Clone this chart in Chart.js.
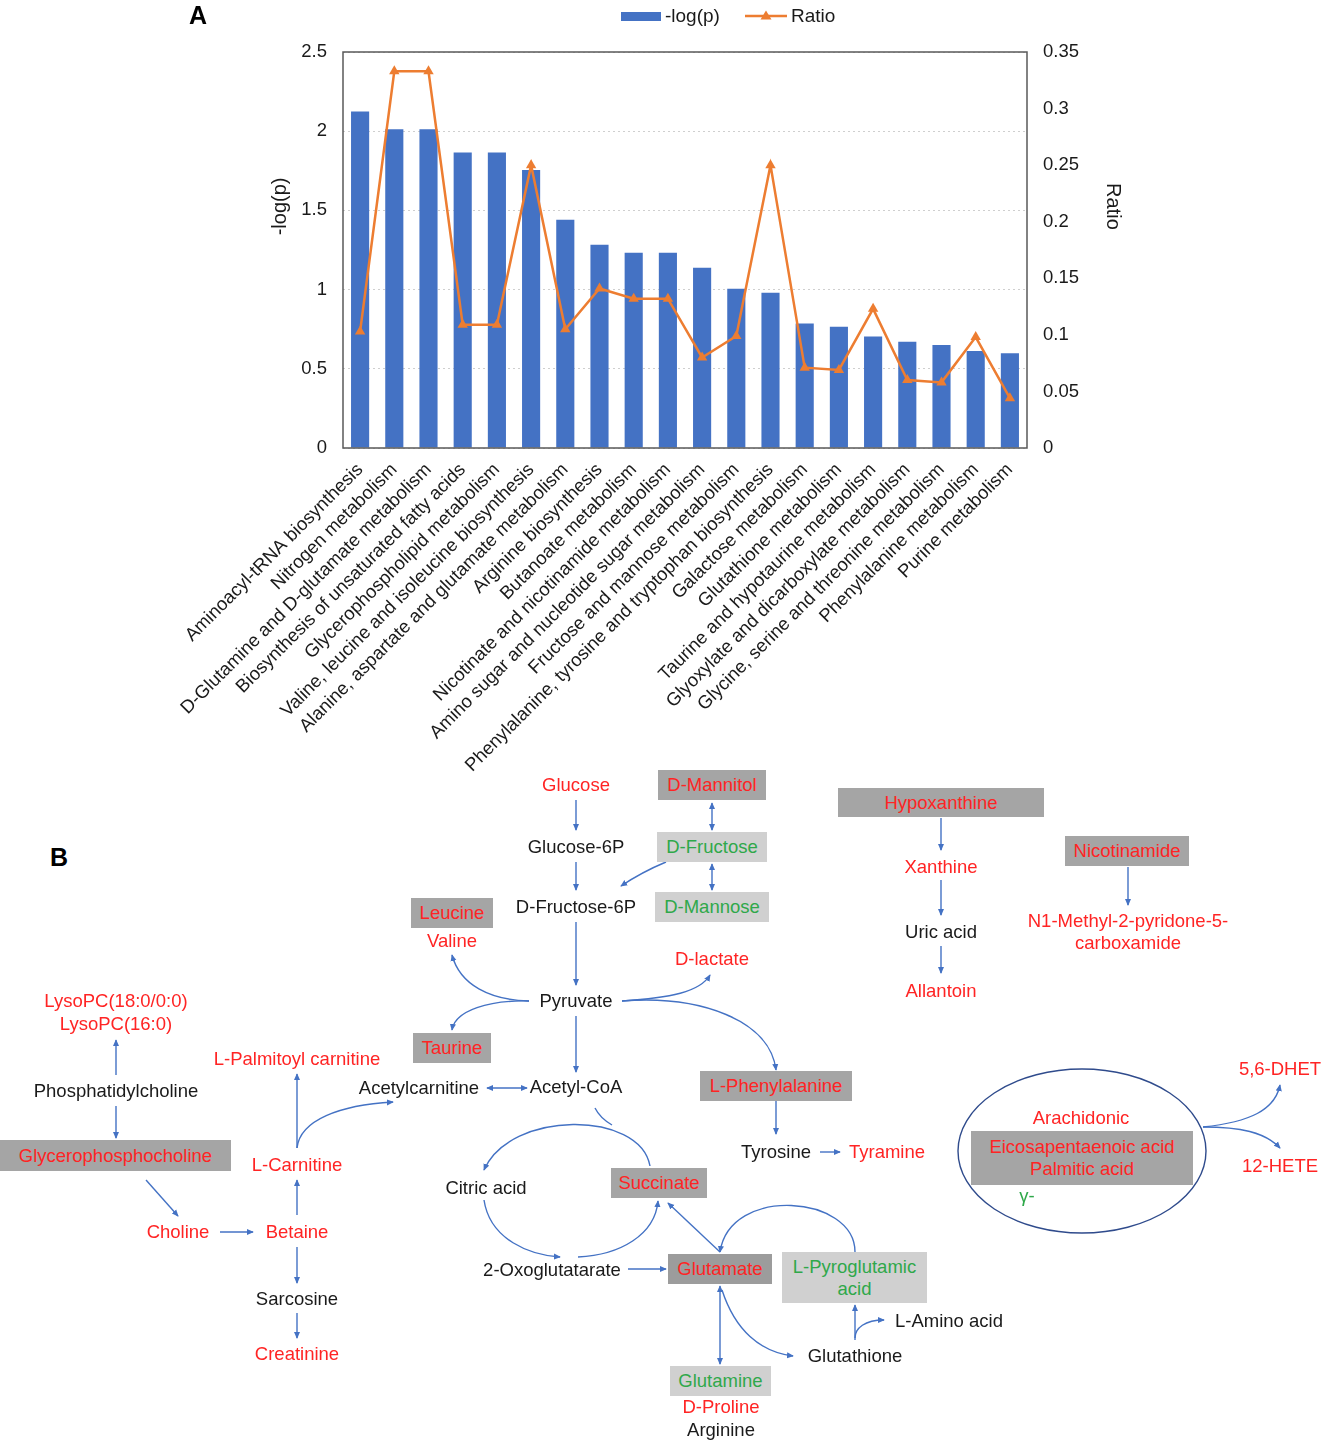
<!DOCTYPE html>
<html>
<head>
<meta charset="utf-8">
<script src="https://cdn.jsdelivr.net/npm/chart.js@4.4.1/dist/chart.umd.min.js"></script>
<style>
  html, body { margin: 0; padding: 0; background: #fff; }
  body { width: 1321px; height: 1440px; position: relative; overflow: hidden;
         font-family: "Liberation Sans", Arial, sans-serif; }
  #wrap { position: absolute; left: 0; top: 0; width: 1321px; height: 800px; }
  .t { position: absolute; transform: translate(-50%, -50%); white-space: nowrap;
       font-size: 18.5px; line-height: 22px; text-align: center; }
  .red { color: #ff2424; }
  .grn { color: #2fa84a; }
  .blk { color: #1a1a1a; }
  .box { position: absolute; display: flex; align-items: center; justify-content: center;
         flex-direction: column; font-size: 18.5px; line-height: 22px; white-space: nowrap; }
  .dk { background: #a5a5a5; }
  .dk2 { background: #9c9c9c; }
  .lt { background: #d0d0d0; }
  .panel { position: absolute; font-weight: bold; font-size: 25px; color: #000; }
  #legend { position: absolute; top: 5px; left: 621px; height: 22px; display: flex; align-items: center;
            font-size: 19px; color: #1a1a1a; }
  svg#arrows { position: absolute; left: 0; top: 0; }
</style>
</head>
<body>
<div id="wrap"><canvas id="c" width="1321" height="800"></canvas></div>
<div class="panel" style="left:189px;top:1px;">A</div>
<div id="legend">
  <span style="display:inline-block;width:40px;height:9px;background:#4472c4;"></span>
  <span style="margin-left:4px;">-log(p)</span>
  <svg width="44" height="14" style="margin-left:24px;"><line x1="1" y1="7" x2="43" y2="7" stroke="#ed7d31" stroke-width="2.5"/><polygon points="22,1.5 27.5,10.5 16.5,10.5" fill="#ed7d31"/></svg>
  <span style="margin-left:3px;">Ratio</span>
</div>
<div class="panel" style="left:50px;top:843px;">B</div>

<svg id="arrows" width="1321" height="1440">
  <defs>
    <marker id="ah" viewBox="0 0 8 8" refX="7" refY="4" markerWidth="7" markerHeight="7" markerUnits="userSpaceOnUse" orient="auto-start-reverse">
      <path d="M0,0.5 L8,4 L0,7.5 z" fill="#4472c4"/>
    </marker>
  </defs>
  <g fill="none" stroke="#4472c4" stroke-width="1.4">
    <path d="M576,800 L576,830" marker-end="url(#ah)"/>
    <path d="M576,862 L576,890" marker-end="url(#ah)"/>
    <path d="M576,922 L576,985" marker-end="url(#ah)"/>
    <path d="M576,1016 L576,1072" marker-end="url(#ah)"/>
    <path d="M712,803 L712,830" marker-start="url(#ah)" marker-end="url(#ah)"/>
    <path d="M712,864 L712,890" marker-start="url(#ah)" marker-end="url(#ah)"/>
    <path d="M666,862 Q642,872 621,886" marker-end="url(#ah)"/>
    <path d="M529,1001 C490,1000 460,985 452,955" marker-end="url(#ah)"/>
    <path d="M529,1001 C490,1000 455,1010 452,1030" marker-end="url(#ah)"/>
    <path d="M622,1001 C670,998 700,992 710,975" marker-end="url(#ah)"/>
    <path d="M622,1001 C700,995 770,1020 776,1070" marker-end="url(#ah)"/>
    <path d="M776,1101 L776,1134" marker-end="url(#ah)"/>
    <path d="M820,1152 L840,1152" marker-end="url(#ah)"/>
    <path d="M487,1088 L527,1088" marker-start="url(#ah)" marker-end="url(#ah)"/>
    <path d="M297,1148 L297,1074" marker-end="url(#ah)"/>
    <path d="M297,1148 C300,1120 340,1105 393,1102" marker-end="url(#ah)"/>
    <path d="M297,1215 L297,1180" marker-end="url(#ah)"/>
    <path d="M220,1232 L253,1232" marker-end="url(#ah)"/>
    <path d="M297,1247 L297,1283" marker-end="url(#ah)"/>
    <path d="M297,1313 L297,1338" marker-end="url(#ah)"/>
    <path d="M116,1075 L116,1040" marker-end="url(#ah)"/>
    <path d="M116,1106 L116,1138" marker-end="url(#ah)"/>
    <path d="M146,1180 L178,1216" marker-end="url(#ah)"/>
    <path d="M595,1108 Q600,1118 612,1125"/>
    <path d="M650,1166 C640,1110 510,1110 484,1170" marker-end="url(#ah)"/>
    <path d="M484,1200 C490,1240 530,1255 560,1257" marker-end="url(#ah)"/>
    <path d="M578,1257 C620,1255 655,1235 658,1201" marker-end="url(#ah)"/>
    <path d="M628,1269 L666,1269" marker-end="url(#ah)"/>
    <path d="M720,1252 L668,1203" marker-end="url(#ah)"/>
    <path d="M855,1252 C855,1195 730,1185 720,1252" marker-end="url(#ah)"/>
    <path d="M720,1286 L720,1364" marker-start="url(#ah)" marker-end="url(#ah)"/>
    <path d="M722,1290 C735,1330 760,1352 793,1356" marker-end="url(#ah)"/>
    <path d="M855,1340 L855,1305" marker-end="url(#ah)"/>
    <path d="M855,1338 C855,1328 865,1320 884,1320" marker-end="url(#ah)"/>
    <path d="M941,818 L941,850" marker-end="url(#ah)"/>
    <path d="M941,880 L941,915" marker-end="url(#ah)"/>
    <path d="M941,946 L941,973" marker-end="url(#ah)"/>
    <path d="M1128,867 L1128,905" marker-end="url(#ah)"/>
    <path d="M1203,1127 C1250,1122 1275,1110 1280,1085" marker-end="url(#ah)"/>
    <path d="M1203,1127 C1240,1127 1265,1132 1280,1148" marker-end="url(#ah)"/>
  </g>
  <ellipse cx="1082" cy="1151" rx="124" ry="82" fill="none" stroke="#2f4b8c" stroke-width="1.4"/>
</svg>

<!-- boxes -->
<div class="box dk red" style="left:658px;top:770px;width:108px;height:30px;">D-Mannitol</div>
<div class="box lt grn" style="left:657px;top:832px;width:110px;height:30px;">D-Fructose</div>
<div class="box lt grn" style="left:655px;top:892px;width:114px;height:30px;">D-Mannose</div>
<div class="box dk red" style="left:411px;top:898px;width:82px;height:30px;">Leucine</div>
<div class="box dk red" style="left:413px;top:1033px;width:78px;height:30px;">Taurine</div>
<div class="box dk red" style="left:700px;top:1071px;width:152px;height:30px;">L-Phenylalanine</div>
<div class="box dk red" style="left:0px;top:1140px;width:231px;height:31px;">Glycerophosphocholine</div>
<div class="box dk red" style="left:611px;top:1168px;width:96px;height:30px;">Succinate</div>
<div class="box dk2 red" style="left:668px;top:1254px;width:104px;height:30px;">Glutamate</div>
<div class="box lt grn" style="left:782px;top:1252px;width:145px;height:51px;"><span>L-Pyroglutamic</span><span>acid</span></div>
<div class="box lt grn" style="left:670px;top:1366px;width:101px;height:30px;">Glutamine</div>
<div class="box dk red" style="left:838px;top:788px;width:206px;height:29px;">Hypoxanthine</div>
<div class="box dk red" style="left:1065px;top:836px;width:124px;height:30px;">Nicotinamide</div>
<div class="box dk red" style="left:971px;top:1131px;width:222px;height:54px;"><span>Eicosapentaenoic acid</span><span>Palmitic acid</span></div>

<!-- plain texts -->
<div class="t red" style="left:576px;top:785px;">Glucose</div>
<div class="t blk" style="left:576px;top:847px;">Glucose-6P</div>
<div class="t blk" style="left:576px;top:907px;">D-Fructose-6P</div>
<div class="t blk" style="left:576px;top:1001px;">Pyruvate</div>
<div class="t blk" style="left:576px;top:1087px;">Acetyl-CoA</div>
<div class="t red" style="left:452px;top:941px;">Valine</div>
<div class="t red" style="left:712px;top:959px;">D-lactate</div>
<div class="t blk" style="left:776px;top:1152px;">Tyrosine</div>
<div class="t red" style="left:887px;top:1152px;">Tyramine</div>
<div class="t blk" style="left:419px;top:1088px;">Acetylcarnitine</div>
<div class="t red" style="left:297px;top:1059px;">L-Palmitoyl carnitine</div>
<div class="t red" style="left:297px;top:1165px;">L-Carnitine</div>
<div class="t red" style="left:297px;top:1232px;">Betaine</div>
<div class="t red" style="left:178px;top:1232px;">Choline</div>
<div class="t blk" style="left:297px;top:1299px;">Sarcosine</div>
<div class="t red" style="left:297px;top:1354px;">Creatinine</div>
<div class="t red" style="left:116px;top:1001px;">LysoPC(18:0/0:0)</div>
<div class="t red" style="left:116px;top:1024px;">LysoPC(16:0)</div>
<div class="t blk" style="left:116px;top:1091px;">Phosphatidylcholine</div>
<div class="t blk" style="left:486px;top:1188px;">Citric acid</div>
<div class="t blk" style="left:552px;top:1270px;">2-Oxoglutatarate</div>
<div class="t blk" style="left:855px;top:1356px;">Glutathione</div>
<div class="t blk" style="left:949px;top:1321px;">L-Amino acid</div>
<div class="t red" style="left:721px;top:1407px;">D-Proline</div>
<div class="t blk" style="left:721px;top:1430px;">Arginine</div>
<div class="t red" style="left:941px;top:867px;">Xanthine</div>
<div class="t blk" style="left:941px;top:932px;">Uric acid</div>
<div class="t red" style="left:941px;top:991px;">Allantoin</div>
<div class="t red" style="left:1128px;top:921px;">N1-Methyl-2-pyridone-5-</div>
<div class="t red" style="left:1128px;top:943px;">carboxamide</div>
<div class="t red" style="left:1081px;top:1118px;">Arachidonic</div>
<div class="t grn" style="left:1027px;top:1196px;">γ-</div>
<div class="t red" style="left:1280px;top:1069px;">5,6-DHET</div>
<div class="t red" style="left:1280px;top:1166px;">12-HETE</div>

<script>
// ---- data ----
const categories = [
  "Aminoacyl-tRNA biosynthesis",
  "Nitrogen metabolism",
  "D-Glutamine and D-glutamate metabolism",
  "Biosynthesis of unsaturated fatty acids",
  "Glycerophospholipid metabolism",
  "Valine, leucine and isoleucine biosynthesis",
  "Alanine, aspartate and glutamate metabolism",
  "Arginine biosynthesis",
  "Butanoate metabolism",
  "Nicotinate and nicotinamide metabolism",
  "Amino sugar and nucleotide sugar metabolism",
  "Fructose and mannose metabolism",
  "Phenylalanine, tyrosine and tryptophan biosynthesis",
  "Galactose metabolism",
  "Glutathione metabolism",
  "Taurine and hypotaurine metabolism",
  "Glyoxylate and dicarboxylate metabolism",
  "Glycine, serine and threonine metabolism",
  "Phenylalanine metabolism",
  "Purine metabolism"
];
const negLogP = [2.124, 2.012, 2.012, 1.865, 1.865, 1.755, 1.441, 1.283, 1.233, 1.233,
                 1.138, 1.005, 0.980, 0.786, 0.765, 0.704, 0.670, 0.651, 0.613, 0.598];
const ratio = [0.103, 0.333, 0.333, 0.109, 0.109, 0.250, 0.105, 0.141, 0.132, 0.132,
               0.080, 0.099, 0.250, 0.071, 0.069, 0.123, 0.060, 0.058, 0.098, 0.044];
const leftAxis = { min: 0, max: 2.5, step: 0.5, title: "-log(p)" };
const rightAxis = { min: 0, max: 0.35, step: 0.05, title: "Ratio" };

const FONT = "'Liberation Sans', Arial, sans-serif";
const fmt = v => String(parseFloat(Number(v).toFixed(2)));

const framePlugin = {
  id: 'frame',
  afterDraw(chart) {
    const {ctx, chartArea: a} = chart;
    ctx.save();
    ctx.strokeStyle = '#595959';
    ctx.lineWidth = 1.5;
    ctx.strokeRect(a.left, a.top, a.right - a.left, a.bottom - a.top);
    // axis titles (placed like the source: a bit above the vertical middle)
    const ty = a.top + (a.bottom - a.top) * 0.39;
    ctx.fillStyle = '#1a1a1a';
    ctx.font = "20px " + FONT;
    ctx.textAlign = 'center';
    ctx.textBaseline = 'middle';
    const yl = chart.scales.y, yr = chart.scales.y1;
    ctx.save();
    ctx.translate(yl.left + 15, ty);
    ctx.rotate(-Math.PI / 2);
    ctx.fillText(leftAxis.title, 0, 0);
    ctx.restore();
    ctx.save();
    ctx.translate(yr.right - 15, ty);
    ctx.rotate(Math.PI / 2);
    ctx.fillText(rightAxis.title, 0, 0);
    ctx.restore();
    ctx.restore();
  }
};

new Chart(document.getElementById('c'), {
  data: {
    labels: categories,
    datasets: [
      { type: 'line', label: 'Ratio', data: ratio, yAxisID: 'y1',
        borderColor: '#ed7d31', backgroundColor: '#ed7d31', borderWidth: 2.5,
        pointStyle: 'triangle', pointRadius: 6, pointBorderWidth: 0, tension: 0, order: 0 },
      { type: 'bar', label: '-log(p)', data: negLogP, yAxisID: 'y',
        backgroundColor: '#4472c4', barPercentage: 0.53, categoryPercentage: 1.0, order: 1 }
    ]
  },
  options: {
    responsive: false,
    animation: false,
    layout: { padding: { left: 265, right: 193, top: 52, bottom: 0 } },
    plugins: { legend: { display: false }, tooltip: { enabled: false } },
    scales: {
      x: {
        offset: true,
        grid: { display: false, drawTicks: false },
        border: { display: false },
        ticks: { autoSkip: false, minRotation: 45, maxRotation: 45, padding: 11,
                 color: '#1a1a1a', font: { family: FONT, size: 18.5 } },
        afterFit(s) { s.height = 352; }
      },
      y: {
        position: 'left', min: leftAxis.min, max: leftAxis.max,
        grid: { color: '#cfcfcf', drawTicks: false },
        border: { display: false, dash: [2, 3] },
        ticks: { stepSize: leftAxis.step, padding: 16, color: '#1a1a1a',
                 font: { family: FONT, size: 18.5 }, callback: fmt },
        afterFit(s) { s.width = 78; }
      },
      y1: {
        position: 'right', min: rightAxis.min, max: rightAxis.max,
        grid: { display: false, drawTicks: false },
        border: { display: false },
        ticks: { stepSize: rightAxis.step, padding: 16, color: '#1a1a1a',
                 font: { family: FONT, size: 18.5 }, callback: fmt },
        afterFit(s) { s.width = 101; }
      }
    }
  },
  plugins: [framePlugin]
});
</script>
</body>
</html>
